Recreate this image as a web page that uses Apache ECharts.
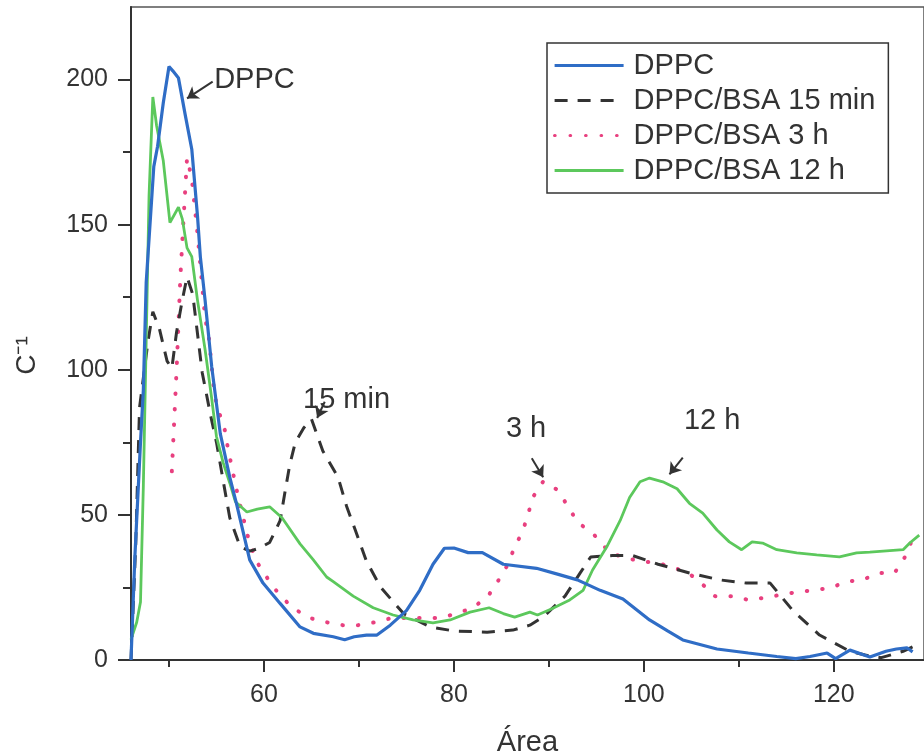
<!DOCTYPE html>
<html lang="pt">
<head>
<meta charset="UTF-8">
<title>C-1 vs Área</title>
<script src="https://cdn.jsdelivr.net/npm/echarts@6.0.0/dist/echarts.min.js"></script>
<style>
  html, body { margin: 0; padding: 0; background: #fff; }
  #main { width: 924px; height: 755px; }
</style>
</head>
<body>
<div id="main"></div>
<script>
// valores: [Área, C^-1]
var dppc = [
  [46, 0], [46.4, 35], [47, 75], [47.3, 93], [47.6, 130], [48.4, 170], [48.8, 177], [49.4, 192],
  [50, 204.5], [50.4, 203], [51, 200.5], [51.7, 188], [52.4, 176], [53, 153], [53.3, 139], [53.8, 124],
  [54.5, 101], [55.4, 78], [56.4, 63], [57.1, 54], [58.5, 34.5], [59.9, 26.5], [61.7, 19.5], [63.8, 11.4],
  [65.2, 9.2], [67.3, 8], [68.5, 7], [69.5, 8], [70.8, 8.6], [71.9, 8.6], [73.3, 12], [75, 17],
  [76.4, 24], [77.8, 33], [79, 38.5], [80, 38.6], [81.5, 37], [83, 37], [85.2, 33], [88.7, 31.6],
  [91, 29.5], [93, 27.6], [95.4, 24], [97.8, 21], [100.6, 13.8], [102.5, 10], [104.1, 6.9], [107.7, 3.8],
  [111, 2.4], [114, 1.2], [116, 0.5], [117.5, 1.2], [119.3, 2.4], [120.2, 0.5], [121.7, 3.4], [123.8, 1],
  [125.5, 3], [126.6, 3.8], [127.7, 4.2], [128.3, 2.8]
];
var bsa15min = [
  [46, 0], [46.5, 40], [46.9, 87], [47.8, 110], [48.3, 120], [49, 114], [49.8, 103], [50.3, 100.5],
  [50.8, 113], [51.4, 124], [51.9, 132], [52.5, 126], [53.5, 99], [54.4, 84], [55, 75], [55.8, 60],
  [56.4, 49], [57.5, 39], [58.5, 37.5], [59.5, 38.5], [60.6, 40.5], [61.7, 48], [62.2, 57.6], [62.7, 67],
  [63.3, 75], [64.2, 80], [65, 83], [66.2, 72], [67.8, 63], [68.7, 53], [69.7, 44], [70.8, 34],
  [72.3, 25], [74.7, 16], [77.5, 11.4], [80, 10], [83.5, 9.6], [86.2, 10.3], [88, 12], [89.4, 14.8],
  [91.7, 22], [93.3, 30], [94.4, 35.5], [96.7, 36], [98.8, 36], [101.5, 33], [104.8, 30], [108, 27.6],
  [110.8, 26.5], [113.3, 26.5], [115.7, 17], [118.5, 8.6], [121.7, 3], [123.3, 1.7], [125, 0.8], [127.3, 3],
  [128.3, 4.5]
];
var bsa3h = [
  [50.3, 65], [50.8, 100], [51.2, 132], [51.5, 150], [51.9, 173], [52.4, 166], [53, 147], [53.8, 118],
  [54.2, 111], [54.8, 91], [55.4, 84], [55.9, 79], [56.2, 73], [56.9, 62], [57.3, 56], [58.5, 40],
  [59.4, 33], [60.4, 28], [61.5, 23], [63, 18], [64.8, 14.5], [66.6, 13], [68.3, 12], [69.9, 12],
  [71.7, 13], [73.5, 14.5], [75.3, 14.5], [77, 14.5], [78.5, 14.5], [80.3, 16], [82, 18], [83.6, 22],
  [84.8, 28], [85.7, 33], [86.4, 39], [87.2, 44], [87.8, 50], [88.3, 56], [89.4, 61.5], [90.9, 58.6],
  [92, 53], [93, 47.6], [94.8, 43], [96.4, 37], [98.2, 35], [99.9, 34], [101.5, 33.4], [103, 32],
  [104.7, 30], [106.2, 26], [107.5, 22], [109.3, 22], [111, 20.7], [112.7, 21.4], [114.3, 22.4], [116.1, 23.4],
  [117.8, 24], [119.6, 24.8], [121.4, 27], [123, 27.6], [124.8, 30], [126.4, 30], [127.5, 35.5], [128.2, 41]
];
var bsa12h = [
  [46, 7], [46.6, 13], [47, 20], [47.3, 60], [47.6, 110], [47.9, 160], [48.3, 194], [48.7, 184],
  [49.4, 172], [50.1, 150.7], [51, 156], [51.4, 152], [51.9, 142], [52.4, 139], [53, 124], [53.8, 107],
  [54.5, 90], [55, 77], [55.7, 68], [56.4, 61], [57, 54.5], [58.2, 51], [59.3, 52], [60.6, 52.8],
  [61.9, 49], [63.8, 40], [65.2, 34.5], [66.6, 28.6], [67.3, 27], [69.4, 22], [71.5, 18], [73.6, 15.5],
  [75.7, 13.8], [77.8, 12.8], [79.6, 13.8], [81.7, 16.5], [83.7, 18], [85.2, 16], [86.4, 14.8], [88, 16.5],
  [88.8, 15.5], [90.2, 17.5], [92.2, 20.7], [93.6, 24], [94.6, 31], [96.1, 39], [97.5, 48], [98.5, 56],
  [99.6, 61.4], [100.6, 62.7], [102, 61.4], [103.5, 59], [104.8, 54], [106.2, 50.6], [107.7, 44.8], [109, 40.7],
  [110.3, 38], [111.4, 40.7], [112.5, 40.3], [114, 38], [116.1, 36.9], [118.2, 36.2], [120.6, 35.5], [122.4, 36.9],
  [123.8, 37.2], [127.3, 38], [128, 40.3], [129, 43]
];

var names = ['DPPC', 'DPPC/BSA 15 min', 'DPPC/BSA 3 h', 'DPPC/BSA 12 h'];
var xTicks = [60, 80, 100, 120];
var xMinor = [50, 70, 90, 110];
var yTicks = [0, 50, 100, 150, 200];
var yMinor = [25, 75, 125, 175];

// anotações: texto, posição do texto, seta (início -> fim)
var noteText = ['DPPC', '15 min', '3 h', '12 h'];
var notePos = [[59.0, 200], [68.7, 89.5], [87.6, 79.5], [107.2, 82.5]];
var noteArrow = [
  [[54.6, 199.3], [51.9, 193.5]],
  [[66.4, 89], [65.6, 83.4]],
  [[88.2, 69.5], [89.4, 63]],
  [[104.1, 69.7], [102.7, 64]]
];

var ink = '#333333';
var chartDom = document.getElementById('main');
var myChart = echarts.init(chartDom, null, { renderer: 'canvas' });

function tickAxis(vals, len) {
  return {
    show: true, length: len, customValues: vals,
    lineStyle: { color: ink, width: 2 }
  };
}

var series = [
  {
    name: names[0], type: 'line', data: dppc, symbol: 'none', z: 4,
    lineStyle: { color: '#2f6dc6', width: 3.2 }, itemStyle: { color: '#2f6dc6' }
  },
  {
    name: names[1], type: 'line', data: bsa15min, symbol: 'none', z: 3,
    lineStyle: { color: ink, width: 3, type: [13, 10] }, itemStyle: { color: ink }
  },
  {
    name: names[2], type: 'line', data: bsa3h, symbol: 'none', z: 2,
    lineStyle: { color: '#e8407f', width: 4, type: [0.5, 15], cap: 'round' }, itemStyle: { color: '#e8407f' }
  },
  {
    name: names[3], type: 'line', data: bsa12h, symbol: 'none', z: 3,
    lineStyle: { color: '#5cc85c', width: 2.8 }, itemStyle: { color: '#5cc85c' }
  },
  {
    // série só para as anotações
    type: 'line', data: [], silent: true,
    markPoint: {
      symbol: 'circle', symbolSize: 1, itemStyle: { color: 'rgba(0,0,0,0)' },
      label: { show: true, position: 'inside', color: ink, fontSize: 29, fontFamily: 'Liberation Sans, Arial, sans-serif', formatter: '{b}' },
      data: noteText.map(function (t, i) { return { name: t, coord: notePos[i] }; })
    },
    markLine: {
      symbol: ['none', 'arrow'], symbolSize: 11, silent: true,
      label: { show: false },
      lineStyle: { color: ink, width: 2, type: 'solid' },
      data: noteArrow.map(function (a) { return [{ coord: a[0] }, { coord: a[1] }]; })
    }
  }
];

var option = {
  animation: false,
  backgroundColor: '#fff',
  textStyle: { fontFamily: 'Liberation Sans, Arial, sans-serif' },
  grid: {
    left: 131, right: 0, top: 7, bottom: 95,
    outerBoundsMode: 'none', containLabel: false,
    show: true, borderColor: '#555', borderWidth: 1.5
  },
  legend: {
    data: names,
    orient: 'vertical', left: 547, top: 43,
    itemWidth: 69, itemHeight: 14, itemGap: 6,
    padding: [8, 13, 8, 6],
    borderColor: ink, borderWidth: 1.5,
    itemStyle: { color: 'rgba(0,0,0,0)', borderWidth: 0, opacity: 0 },
    lineStyle: { width: 3.2 },
    textStyle: { fontSize: 29, color: ink, padding: [0, 0, 0, 5] }
  },
  xAxis: [
    {
      type: 'value', min: 46, max: 129.5, position: 'bottom',
      axisLine: { show: true, onZero: false, lineStyle: { color: ink, width: 2 } },
      axisTick: tickAxis(xTicks, 12),
      axisLabel: { customValues: xTicks, fontSize: 25, color: ink, margin: 23 },
      splitLine: { show: false },
      name: 'Área', nameLocation: 'middle', nameGap: 68,
      nameTextStyle: { fontSize: 29, color: ink }
    },
    {
      type: 'value', min: 46, max: 129.5, position: 'bottom',
      axisLine: { show: false, onZero: false },
      axisTick: tickAxis(xMinor, 7),
      axisLabel: { show: false }, splitLine: { show: false }
    }
  ],
  yAxis: [
    {
      type: 'value', min: 0, max: 225, position: 'left',
      axisLine: { show: true, onZero: false, lineStyle: { color: ink, width: 2 } },
      axisTick: tickAxis(yTicks, 13),
      axisLabel: { customValues: yTicks, fontSize: 25, color: ink, margin: 23 },
      splitLine: { show: false },
      name: 'C⁻¹', nameLocation: 'middle', nameGap: 90,
      nameTextStyle: { fontSize: 28, color: ink, padding: [0, 44, 0, 0] }
    },
    {
      type: 'value', min: 0, max: 225, position: 'left',
      axisLine: { show: false, onZero: false },
      axisTick: tickAxis(yMinor, 8),
      axisLabel: { show: false }, splitLine: { show: false }
    }
  ],
  series: series
};

myChart.setOption(option);
</script>
</body>
</html>
